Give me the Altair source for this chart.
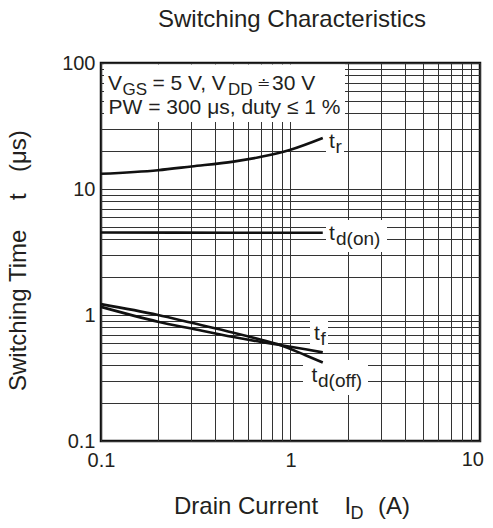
import altair as alt
import pandas as pd

# ---- data ----
x_r = [0.1, 0.2, 0.3, 0.5, 0.7, 1.0, 1.48]
t_r = [13.2, 14.1, 15.1, 16.5, 18.0, 20.5, 25.4]

x_on = [0.1, 0.5, 1.0, 1.48]
t_d_on = [4.52, 4.5, 4.5, 4.5]

x_off = [0.1, 0.2, 0.3, 0.5, 0.7, 0.88, 1.2, 1.48]
t_f = [1.16, 0.885, 0.78, 0.668, 0.611, 0.578, 0.534, 0.505]
t_d_off = [1.22, 1.0, 0.867, 0.724, 0.636, 0.578, 0.479, 0.42]

x_grid = [0.1, 0.2, 0.3, 0.4, 0.5, 0.6, 0.7, 0.8, 0.9,
          1, 2, 3, 4, 5, 6, 7, 8, 9, 10]
y_grid = [0.1, 0.2, 0.3, 0.4, 0.5, 0.6, 0.7, 0.8, 0.9,
          1, 2, 3, 4, 5, 6, 7, 8, 9,
          10, 20, 30, 40, 50, 60, 70, 80, 90, 100]
x_major = [0.1, 1]          # "10" is drawn separately so it is not clipped
y_major = [0.1, 1, 10, 100]

rows = []
for name, xs, ys in [("tr", x_r, t_r), ("tdon", x_on, t_d_on),
                     ("tf", x_off, t_f), ("tdoff", x_off, t_d_off)]:
    for a, b in zip(xs, ys):
        rows.append({"series": name, "x": a, "y": b})
df = pd.DataFrame(rows)

FONT = "Liberation Sans"
INK = "#231f20"
one = alt.Data(values=[{"a": 1}])


def txt(s, x, y, size, angle=0, align="left", baseline="alphabetic"):
    return alt.Chart(one).mark_text(
        text=s, fontSize=size, font=FONT, color=INK, align=align,
        baseline=baseline, angle=angle
    ).encode(x=alt.value(x), y=alt.value(y))


def box(x0, x1, y0, y1):
    return alt.Chart(one).mark_rect(color="white").encode(
        x=alt.value(x0), x2=alt.value(x1), y=alt.value(y0), y2=alt.value(y1)
    )


def expr(vals):
    return ("indexof([" + ",".join(str(v) for v in vals) +
            "], datum.value) >= 0 ? format(datum.value, '~g') : ''")


lines = alt.Chart(df).mark_line(
    color="#111", strokeWidth=2.6, interpolate="monotone"
).encode(
    x=alt.X("x:Q", scale=alt.Scale(type="log", domain=[0.1, 10], nice=False),
            axis=alt.Axis(values=x_grid, labelExpr=expr(x_major), title=None,
                          ticks=False, domain=False, labelFlush=False,
                          labelOverlap=False, labelPadding=9)),
    y=alt.Y("y:Q", scale=alt.Scale(type="log", domain=[0.1, 100], nice=False),
            axis=alt.Axis(values=y_grid, labelExpr=expr(y_major), title=None,
                          ticks=False, domain=False, labelFlush=False,
                          labelOverlap=False, labelPadding=6)),
    detail="series:N",
)

boxes = [
    box(3, 244, 1.5, 59),      # condition box
    box(225, 243, 69, 95),     # t_r
    box(225, 286, 157, 189),   # t_d(on)
    box(209, 227, 255, 284),   # t_f
    box(202, 267, 297, 332),   # t_d(off)
]

texts = [
    txt("Switching Characteristics", 191, -36, 24, align="center"),
    # conditions, line 1
    txt("V", 7, 27, 21),
    txt("GS", 21.5, 31.5, 17),
    txt("= 5 V, V", 51.5, 27, 21),
    txt("DD", 127, 31.5, 17),
    txt("≐", 155.5, 26, 16),
    txt("30 V", 171, 27, 21),
    # line 2
    txt("PW = 300 μs, duty ≤ 1 %", 7.5, 51, 21),
    # curve labels
    txt("t", 228, 85, 21), txt("r", 234.5, 90, 19),
    txt("t", 228, 177, 21), txt("d(on)", 235, 182, 19),
    txt("t", 213, 277, 21), txt("f", 219.5, 282, 19),
    txt("t", 210.5, 318.5, 21), txt("d(off)", 217, 324, 19),
    # last x tick label
    txt("10", 383, 387, 20, align="right", baseline="top"),
    # axis titles
    txt("Drain Current", 73, 451, 24),
    txt("I", 243.5, 451, 24),
    txt("D", 249.5, 456, 18),
    txt("(A)", 277, 451, 24),
    txt("Switching Time", -75, 328, 24, angle=270),
    txt("t", -75, 137, 24, angle=270),
    txt("(μs)", -75, 109, 24, angle=270),
]

chart = alt.layer(*boxes, lines, *texts).properties(
    width=379, height=378,
    autosize=alt.AutoSizeParams(type="none"),
    padding={"left": 93, "top": 55, "right": 5, "bottom": 79},
    background="white",
).configure_view(
    stroke="#111", strokeWidth=2.5
).configure_axis(
    labelFont=FONT, labelFontSize=20, labelColor=INK,
    grid=True, gridColor="#333", gridWidth=1, gridOpacity=1,
)

chart.save("out.html", embed_options={"renderer": "svg", "actions": False})
